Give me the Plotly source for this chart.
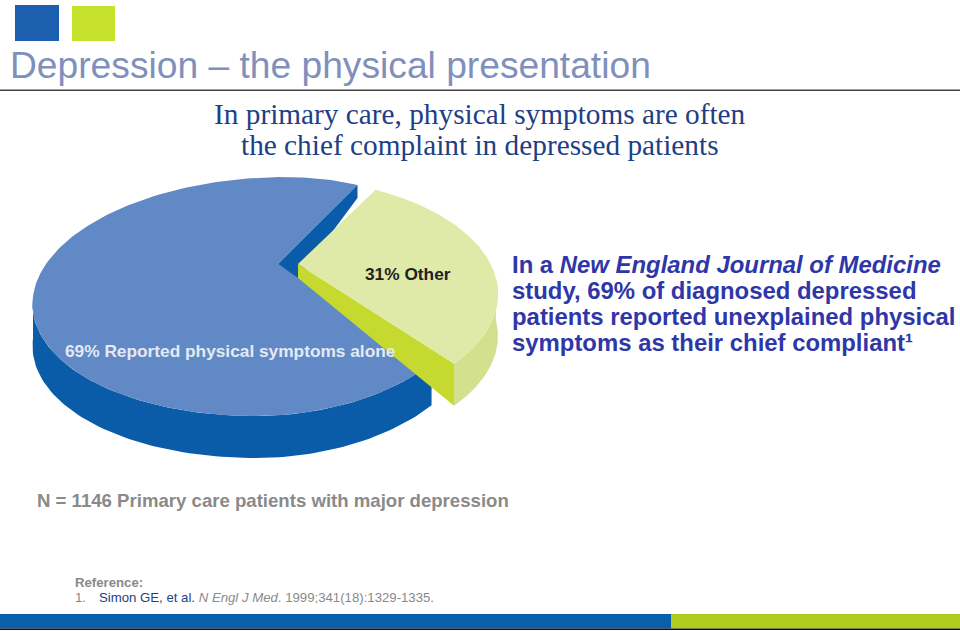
import numpy as np
import plotly.graph_objects as go

# ---- data ----
categories = ["Reported physical symptoms alone", "Other"]
values = [69, 31]
n_patients = 1146

# ---- picture geometry (pixel space of the slide) ----
W, H = 960, 631
BLUE = dict(cx=270, cy=296.5, a_left=237, a_right=205, b=119.5, skew=15, apex=(278, 264), start=69, depth=42)
GREEN = dict(cx=280, cy=294, a_left=218, a_right=218, b=116, skew=0, apex=(298, 264), start=64, depth=42)
PERSPECTIVE_BLUE = 8.6  # drawn perspective widens the big slice by this much
PERSPECTIVE_GREEN = 10.6


def arc(g, t0, t1, dy=0, n=90):
    t = np.radians(np.linspace(t0, t1, n))
    c, s = np.cos(t), np.sin(t)
    a = np.where(c < 0, g["a_left"], g["a_right"])
    return g["cx"] + a * c + g["skew"] * s, g["cy"] - g["b"] * s + dy


def poly(x, y, color):
    return go.Scatter(x=list(x), y=list(y), mode="lines", fill="toself", fillcolor=color,
                      line=dict(width=0, color=color), hoverinfo="skip", showlegend=False)


blue_end = BLUE["start"] + values[0] * 3.6 + PERSPECTIVE_BLUE
green_end = GREEN["start"] - values[1] * 3.6 + PERSPECTIVE_GREEN

fig = go.Figure()

# blue outer wall
ux, uy = arc(BLUE, 180, blue_end)
lx, ly = arc(BLUE, blue_end, 180, dy=BLUE["depth"])
fig.add_trace(poly(np.r_[ux, lx], np.r_[uy, ly], "#0a5ca8"))

# blue top face
ax_, ay_ = arc(BLUE, BLUE["start"], blue_end, n=240)
fig.add_trace(poly(np.r_[BLUE["apex"][0], ax_], np.r_[BLUE["apex"][1], ay_], "#6189c5"))

# blue notch wall
sx, sy = arc(BLUE, BLUE["start"], BLUE["start"], n=1)
fig.add_trace(poly([BLUE["apex"][0], sx[0], sx[0], GREEN["apex"][0]],
                   [BLUE["apex"][1], sy[0], sy[0] + 13, GREEN["apex"][1] + 14], "#0a5ca8"))

# green outer wall
ux, uy = arc(GREEN, 8, green_end)
lx, ly = arc(GREEN, green_end, 8, dy=GREEN["depth"])
fig.add_trace(poly(np.r_[ux, lx], np.r_[uy, ly], "#d3e08e"))

# green cut wall
ex, ey = arc(GREEN, green_end, green_end, n=1)
fig.add_trace(poly([GREEN["apex"][0], ex[0], ex[0], GREEN["apex"][0]],
                   [GREEN["apex"][1], ey[0], ey[0] + GREEN["depth"], GREEN["apex"][1] + 14], "#c5d92f"))

# green top face
ax_, ay_ = arc(GREEN, GREEN["start"], green_end, n=120)
fig.add_trace(poly(np.r_[GREEN["apex"][0], ax_], np.r_[GREEN["apex"][1], ay_], "#dfeaa9"))

SANS = "Liberation Sans, Arial, sans-serif"
SERIF = "Liberation Serif, Times New Roman, serif"


def label(x, y, text, size, color, family=SANS, anchor="left"):
    fig.add_annotation(x=x, y=y, text=text, showarrow=False, xanchor=anchor, yanchor="middle",
                       align=anchor, borderpad=0, borderwidth=0,
                       font=dict(size=size, color=color, family=family))


label(10, 65, "Depression – the physical presentation", 37.2, "#7f90bd")
label(480, 114, "In primary care, physical symptoms are often", 29.3, "#1d3f85", SERIF, "center")
label(480, 145, "the chief complaint in depressed patients", 29.3, "#1d3f85", SERIF, "center")

label(365, 274, f"<b>{values[1]}% {categories[1]}</b>", 17.3, "#222222")
label(65, 351, f"<b>{values[0]}% {categories[0]}</b>", 17.3, "#e4e9f3")

BODY = "#2f37a8"
label(512, 264, "<b>In a <i>New England Journal of Medicine</i></b>", 23.9, BODY)
label(512, 290, f"<b>study, {values[0]}% of diagnosed depressed</b>", 23.9, BODY)
label(512, 316, "<b>patients reported unexplained physical</b>", 23.9, BODY)
label(512, 342, "<b>symptoms as their chief compliant¹</b>", 23.9, BODY)

label(37, 500, f"<b>N = {n_patients} Primary care patients with major depression</b>", 18.6, "#8a8a8a")
label(75, 582, "<b>Reference:</b>", 13.2, "#8a8a8a")
label(75, 597, "1.", 13.2, "#8a8a8a")
label(99, 597, '<span style="color:#1d3f85">Simon GE, et al.</span> <i>N Engl J Med</i>. 1999;341(18):1329-1335.',
      13.2, "#8a8a8a")

shapes = [
    dict(type="rect", x0=15, x1=59, y0=5, y1=41, fillcolor="#1b5fae"),
    dict(type="rect", x0=72, x1=115, y0=6, y1=41, fillcolor="#c6e22c"),
    dict(type="rect", x0=0, x1=960, y0=89.5, y1=91, fillcolor="#444444"),
    dict(type="rect", x0=0, x1=671, y0=614, y1=628.5, fillcolor="#0a60a8"),
    dict(type="rect", x0=671, x1=960, y0=614, y1=628.5, fillcolor="#aecd1c"),
    dict(type="rect", x0=0, x1=960, y0=628.5, y1=630, fillcolor="#111111"),
]
for s in shapes:
    s.update(line=dict(width=0), layer="below", xref="x", yref="y")

fig.update_layout(
    width=W, height=H, autosize=False, margin=dict(l=0, r=0, t=0, b=0),
    paper_bgcolor="white", plot_bgcolor="white", shapes=shapes, showlegend=False,
    xaxis=dict(range=[0, W], visible=False, fixedrange=True),
    yaxis=dict(range=[H, 0], visible=False, fixedrange=True),
)
fig.write_html("out.html", config={"displayModeBar": False},
               post_script="document.body.style.margin='0';document.body.style.overflow='hidden';")
